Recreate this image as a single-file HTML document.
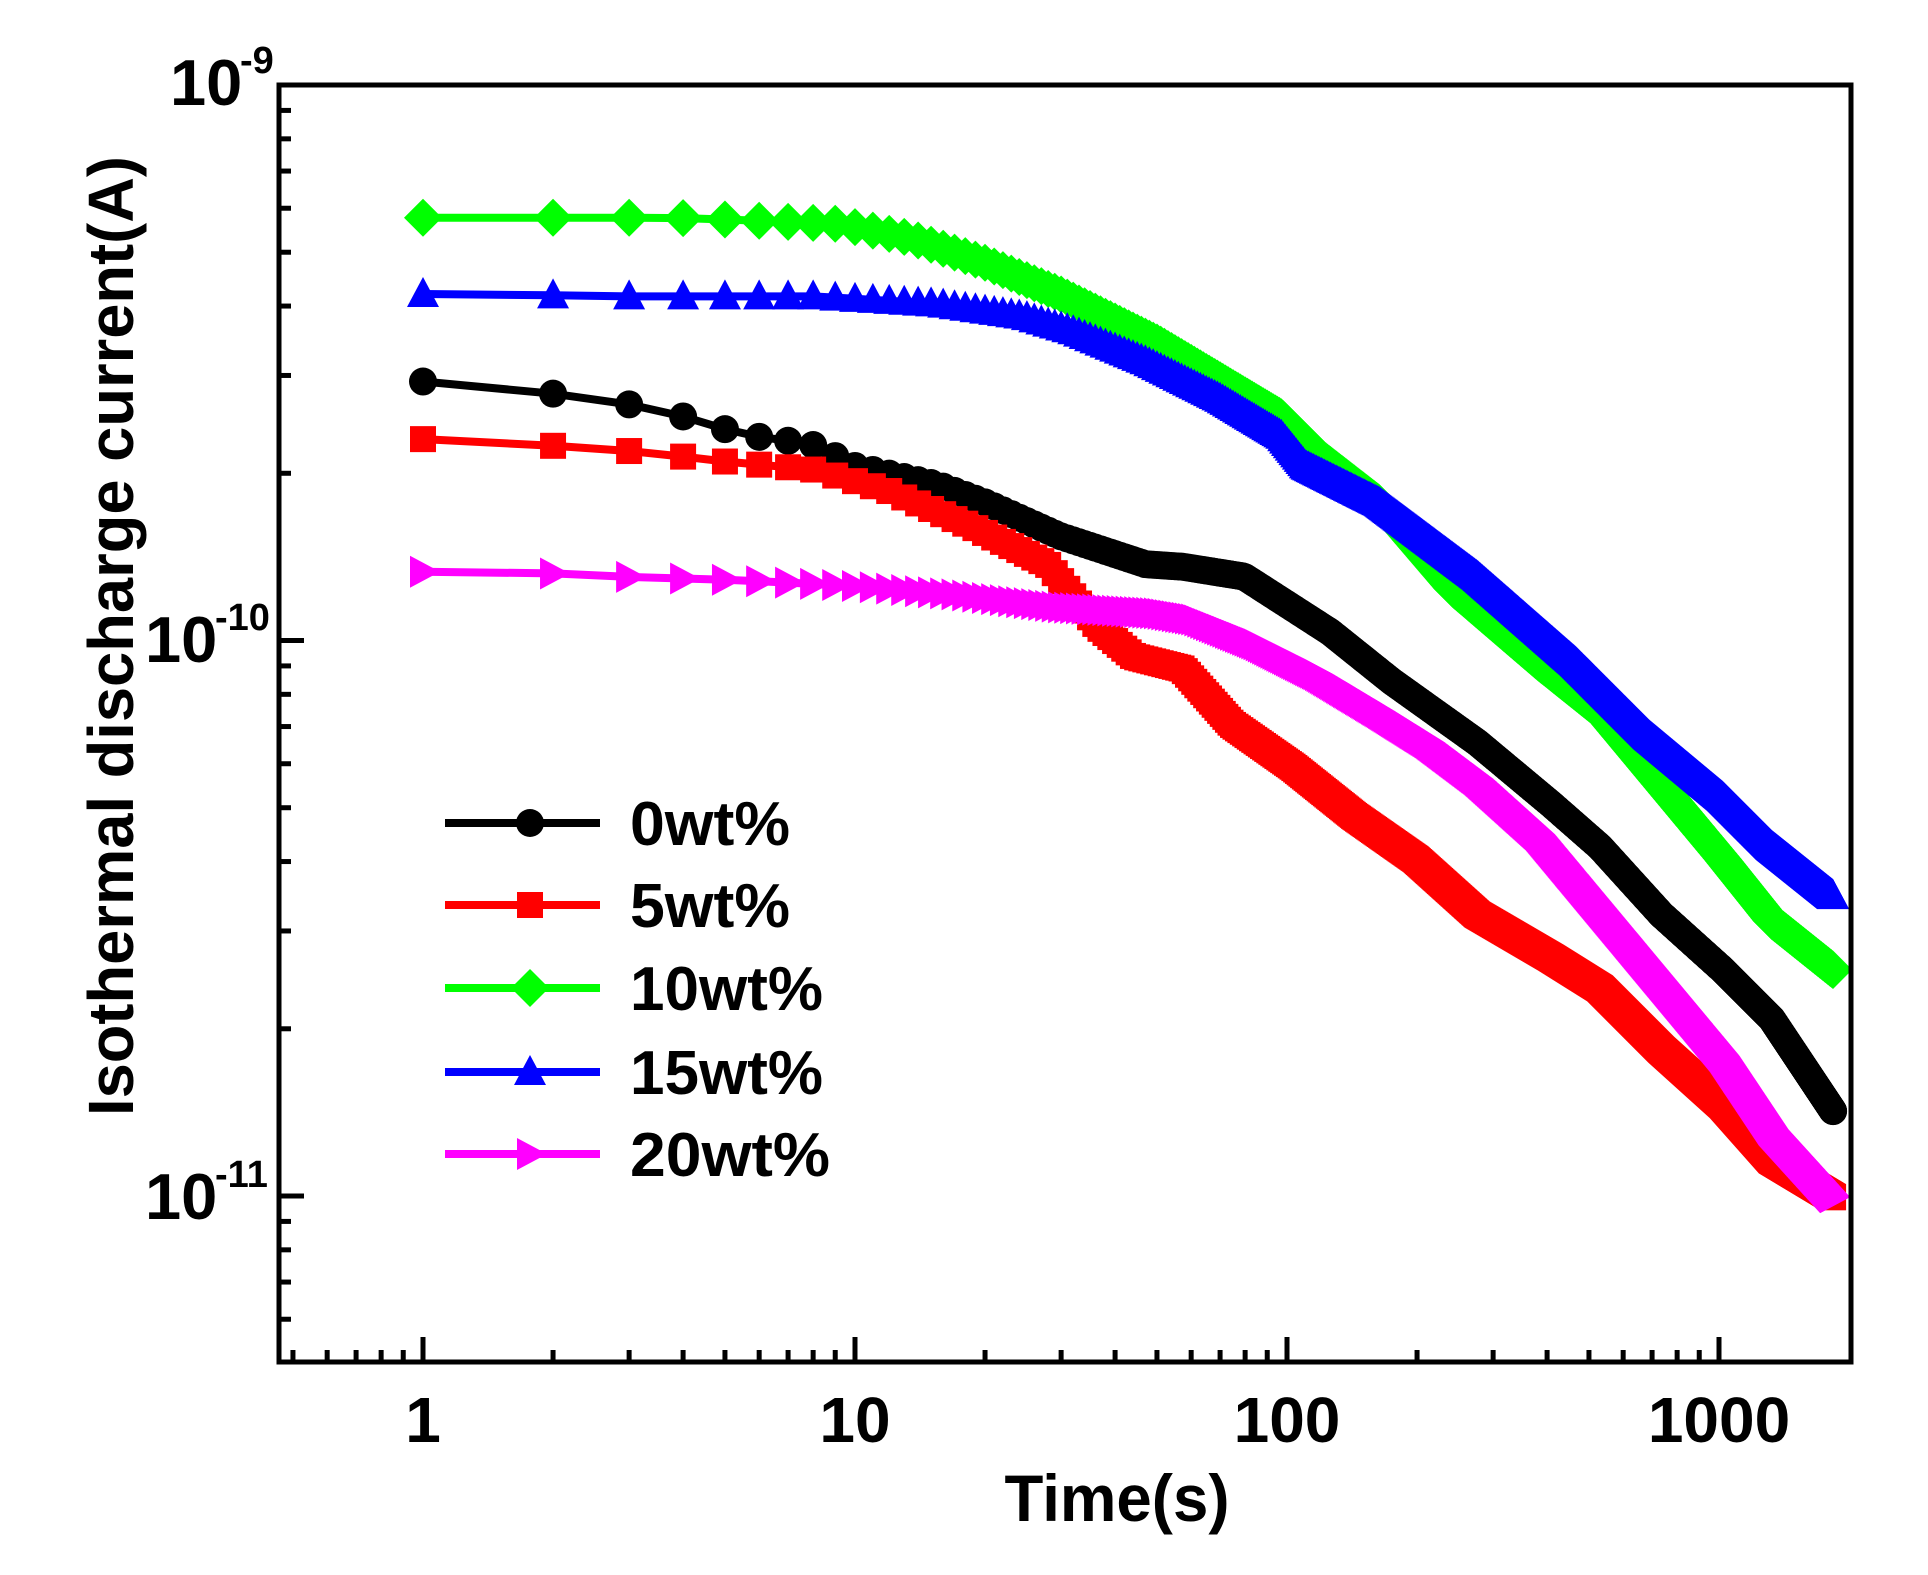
<!DOCTYPE html>
<html><head><meta charset="utf-8"><style>
html,body{margin:0;padding:0;background:#fff;}
svg{display:block;}
text{font-family:"Liberation Sans",Arial,sans-serif;font-weight:bold;fill:#000;}
</style></head><body>
<svg id="s" width="1928" height="1575" viewBox="0 0 1928 1575" xmlns="http://www.w3.org/2000/svg">
<defs><clipPath id="c"><rect x="279" y="85" width="1572" height="1277"/></clipPath></defs>
<g id="data" clip-path="url(#c)"></g>
<g id="ticks" stroke="#000" stroke-width="5" fill="none"></g>
<rect x="279" y="85" width="1572" height="1277" fill="none" stroke="#000" stroke-width="5"/>
<!-- y labels -->
<text x="170" y="105" font-size="65">10</text><text x="240" y="73" font-size="38">-9</text>
<text x="145" y="662" font-size="65">10</text><text x="215" y="630" font-size="38">-10</text>
<text x="145" y="1219" font-size="65">10</text><text x="215" y="1187" font-size="38">-11</text>
<!-- x labels -->
<text x="423" y="1442" font-size="64" text-anchor="middle">1</text>
<text x="855" y="1442" font-size="64" text-anchor="middle">10</text>
<text x="1287" y="1442" font-size="64" text-anchor="middle">100</text>
<text x="1719" y="1442" font-size="64" text-anchor="middle">1000</text>
<text x="1117" y="1521" font-size="66" text-anchor="middle" textLength="225" lengthAdjust="spacingAndGlyphs">Time(s)</text>
<text transform="translate(133,636) rotate(-90)" font-size="64" text-anchor="middle" textLength="960" lengthAdjust="spacingAndGlyphs">Isothermal discharge current(A)</text>
<g id="legend"></g>
<text x="630" y="845" font-size="62" textLength="160" lengthAdjust="spacingAndGlyphs">0wt%</text>
<text x="630" y="927" font-size="62" textLength="160" lengthAdjust="spacingAndGlyphs">5wt%</text>
<text x="630" y="1010" font-size="62" textLength="193" lengthAdjust="spacingAndGlyphs">10wt%</text>
<text x="630" y="1094" font-size="62" textLength="193" lengthAdjust="spacingAndGlyphs">15wt%</text>
<text x="630" y="1176" font-size="62" textLength="200" lengthAdjust="spacingAndGlyphs">20wt%</text>
</svg>
<script>
var NS="http://www.w3.org/2000/svg";
function el(p,n,a){var e=document.createElementNS(NS,n);for(var k in a)e.setAttribute(k,a[k]);p.appendChild(e);return e;}
var X=function(lt){return 423+432*lt;}, Yd=555.5;
var tk=document.getElementById('ticks');
for(var k=-1;k<=3;k++)for(var m=1;m<=9;m++){var lt=k+Math.log10(m);var x=X(lt);if(x<282||x>1848)continue;
 var L=(m==1)?25:12;el(tk,'line',{x1:x,y1:1362,x2:x,y2:1362-L});}
for(var k=-12;k<=-9;k++)for(var m=1;m<=9;m++){var li=k+Math.log10(m);var y=85+Yd*(-9-li);if(y<85||y>1359)continue;
 var L=(m==1)?25:12;el(tk,'line',{x1:279,y1:y,x2:279+L,y2:y});}
function fx(px){return (px-341)/352;}
function fy(py){return 85+Yd*(py-70)/452;}
var S=[
{c:'#000000',m:'circle',p:[[338,311],[438,320],[500,328],[543,337],[576,346],[598,354],[657,362],[693,380],[760,395],[800,410],[860,437],[930,460],[960,462],[1010,470],[1080,515],[1130,555],[1200,605],[1260,655],[1300,690],[1350,745],[1400,790],[1440,830],[1490,905]]},
{c:'#ff0000',m:'square',p:[[338,358],[438,363],[500,367],[543,371],[572,375],[660,383],[720,400],[790,430],[850,460],[890,510],[920,535],[960,545],[1000,590],[1050,625],[1100,665],[1150,700],[1200,745],[1260,780],[1300,805],[1350,855],[1400,900],[1440,945],[1490,975]]},
{c:'#00ff00',m:'diamond',p:[[338,178],[438,178],[500,178],[543,178],[576,179],[680,183],[740,195],[800,215],[860,240],[940,280],[990,310],[1040,340],[1075,375],[1120,410],[1180,480],[1250,540],[1300,580],[1350,640],[1400,700],[1440,750],[1490,790]]},
{c:'#0000ff',m:'up',p:[[338,240],[438,241],[500,242],[660,242],[760,248],[830,258],[870,270],[930,295],[990,325],[1040,355],[1060,380],[1120,410],[1200,470],[1280,540],[1340,600],[1400,650],[1440,690],[1490,730]]},
{c:'#ff00ff',m:'right',p:[[338,466],[438,467],[500,470],[600,473],[700,478],[780,485],[860,495],[940,500],[970,505],[1020,525],[1070,550],[1120,580],[1160,605],[1200,635],[1250,680],[1300,740],[1350,800],[1400,860],[1440,920],[1490,975]]}
];
function interp(P,px){if(px<=P[0][0])return P[0][1];for(var i=1;i<P.length;i++)if(px<=P[i][0]){var a=P[i-1],b=P[i];return a[1]+(b[1]-a[1])*(px-a[0])/(b[0]-a[0]);}return P[P.length-1][1];}
function marker(g,t,x,y,c){
 if(t=='circle')el(g,'circle',{cx:x,cy:y,r:14,fill:c});
 else if(t=='square')el(g,'rect',{x:x-13,y:y-13,width:26,height:26,fill:c});
 else if(t=='diamond')el(g,'polygon',{points:(x-19)+','+y+' '+x+','+(y-19)+' '+(x+19)+','+y+' '+x+','+(y+19),fill:c});
 else if(t=='up')el(g,'polygon',{points:(x-16)+','+(y+13)+' '+(x+16)+','+(y+13)+' '+x+','+(y-17),fill:c});
 else el(g,'polygon',{points:(x-13)+','+(y-16)+' '+(x-13)+','+(y+16)+' '+(x+17)+','+y,fill:c});
}
var D=document.getElementById('data');
S.forEach(function(s){
 var pmax=s.p[s.p.length-1][0];var tmax=Math.pow(10,fx(pmax));
 var pts=[];
 for(var t=1;t<=tmax;t++){var lt=Math.log10(t);var px=341+352*lt;var py=interp(s.p,px);pts.push([X(lt),fy(py)]);}
 el(D,'polyline',{points:pts.map(function(q){return q[0].toFixed(1)+','+q[1].toFixed(1);}).join(' '),fill:'none',stroke:s.c,'stroke-width':8});
 var g=el(D,'g',{});
 pts.forEach(function(q){marker(g,s.m,q[0],q[1],s.c);});
});
var LG=document.getElementById('legend');var ly=[823,905,988,1072,1154];
S.forEach(function(s,i){el(LG,'line',{x1:445,y1:ly[i],x2:600,y2:ly[i],stroke:s.c,'stroke-width':8});marker(LG,s.m,530,ly[i],s.c);});
</script>
</body></html>
